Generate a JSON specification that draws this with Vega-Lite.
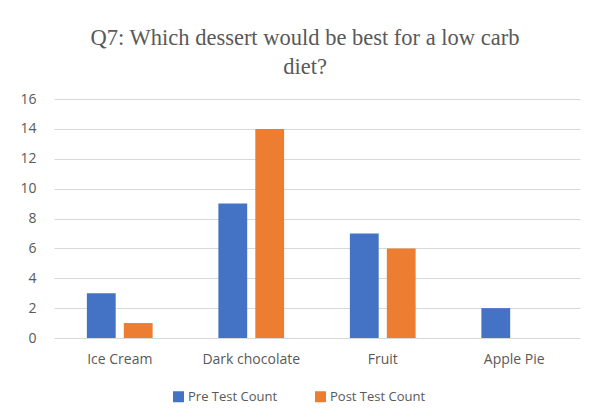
{
  "$schema": "https://vega.github.io/schema/vega-lite/v6.json",
  "width": 526,
  "height": 239,
  "autosize": {"type": "none"},
  "padding": {"left": 54, "top": 99, "right": 17, "bottom": 80},
  "background": "white",
  "title": {
    "text": ["Q7: Which dessert would be best for a low carb", "diet?"],
    "font": "Liberation Serif",
    "fontSize": 22.5,
    "fontWeight": "normal",
    "color": "#595959",
    "anchor": "middle",
    "dx": -12,
    "offset": 14,
    "lineHeight": 29
  },
  "data": {
    "values": [
      {"dessert": "Ice Cream", "series": "Pre Test Count", "count": 3},
      {"dessert": "Ice Cream", "series": "Post Test Count", "count": 1},
      {"dessert": "Dark chocolate", "series": "Pre Test Count", "count": 9},
      {"dessert": "Dark chocolate", "series": "Post Test Count", "count": 14},
      {"dessert": "Fruit", "series": "Pre Test Count", "count": 7},
      {"dessert": "Fruit", "series": "Post Test Count", "count": 6},
      {"dessert": "Apple Pie", "series": "Pre Test Count", "count": 2},
      {"dessert": "Apple Pie", "series": "Post Test Count", "count": 0}
    ]
  },
  "mark": {"type": "bar"},
  "encoding": {
    "x": {
      "field": "dessert",
      "type": "nominal",
      "sort": ["Ice Cream", "Dark chocolate", "Fruit", "Apple Pie"],
      "scale": {"paddingInner": 0.5, "paddingOuter": 0.25},
      "axis": {
        "title": null,
        "labelAngle": 0,
        "labelFont": "Open Sans",
        "labelFontSize": 14,
        "labelColor": "#595959",
        "labelPadding": 14,
        "ticks": false,
        "domain": false
      }
    },
    "xOffset": {
      "field": "series",
      "type": "nominal",
      "sort": ["Pre Test Count", "Post Test Count"],
      "scale": {"paddingInner": 0.22, "paddingOuter": 0}
    },
    "y": {
      "field": "count",
      "type": "quantitative",
      "scale": {"domain": [0, 16]},
      "axis": {
        "title": null,
        "values": [0, 2, 4, 6, 8, 10, 12, 14, 16],
        "labelFont": "Open Sans",
        "labelFontSize": 14,
        "labelColor": "#595959",
        "labelPadding": 18,
        "ticks": false,
        "domain": false,
        "gridColor": "#d9d9d9",
        "gridWidth": 1
      }
    },
    "color": {
      "field": "series",
      "type": "nominal",
      "sort": ["Pre Test Count", "Post Test Count"],
      "scale": {"domain": ["Pre Test Count", "Post Test Count"], "range": ["#4472c4", "#ed7d31"]},
      "legend": {
        "title": null,
        "orient": "none",
        "legendX": 118,
        "legendY": 291,
        "direction": "horizontal",
        "symbolType": "square",
        "symbolSize": 121,
        "symbolStrokeWidth": 0,
        "labelFont": "Open Sans",
        "labelFontSize": 13,
        "labelOffset": 3,
        "labelColor": "#595959",
        "columnPadding": 36
      }
    }
  },
  "config": {
    "view": {"stroke": null}
  }
}
